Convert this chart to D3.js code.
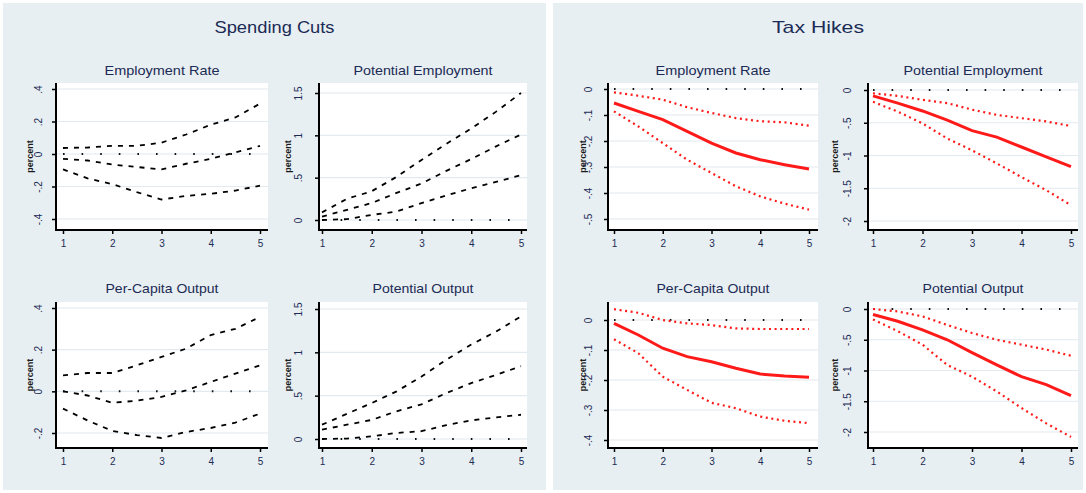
<!DOCTYPE html>
<html>
<head>
<meta charset="utf-8">
<script src="https://cdn.jsdelivr.net/npm/d3@7"></script>
<style>
  body { margin: 0; background: #ffffff; }
  text { font-family: "Liberation Sans", Arial, sans-serif; }
</style>
</head>
<body>
<svg id="chart" width="1086" height="493"></svg>
<script>
// Horizon (years after the consolidation)
const horizon = [1, 1.5, 2, 2.5, 3, 3.5, 4, 4.5, 5];

// Spending cuts: point estimate and confidence band
const spendEmpRateUpper = [0.037, 0.04, 0.05, 0.05, 0.07, 0.12, 0.18, 0.225, 0.31];
const spendEmpRateMid   = [-0.03, -0.04, -0.065, -0.08, -0.095, -0.06, -0.03, 0.01, 0.05];
const spendEmpRateLower = [-0.095, -0.15, -0.185, -0.235, -0.28, -0.258, -0.245, -0.225, -0.195];

const spendPotEmpUpper = [0.09, 0.25, 0.34, 0.51, 0.71, 0.9, 1.08, 1.28, 1.5];
const spendPotEmpMid   = [0.04, 0.12, 0.2, 0.32, 0.43, 0.58, 0.72, 0.87, 1.01];
const spendPotEmpLower = [0, 0.01, 0.06, 0.1, 0.2, 0.29, 0.375, 0.45, 0.53];

const spendPcOutUpper = [0.077, 0.088, 0.088, 0.125, 0.165, 0.205, 0.27, 0.3, 0.357];
const spendPcOutMid   = [0, -0.02, -0.055, -0.045, -0.027, 0.005, 0.045, 0.085, 0.125];
const spendPcOutLower = [-0.083, -0.14, -0.19, -0.21, -0.224, -0.195, -0.176, -0.15, -0.107];

const spendPotOutUpper = [0.165, 0.29, 0.415, 0.55, 0.72, 0.915, 1.09, 1.24, 1.415];
const spendPotOutMid   = [0.108, 0.165, 0.22, 0.32, 0.4, 0.53, 0.645, 0.74, 0.84];
const spendPotOutLower = [0, 0.005, 0.03, 0.07, 0.09, 0.16, 0.215, 0.25, 0.28];

// Tax hikes: point estimate and confidence band
const taxEmpRateUpper = [-0.013, -0.026, -0.041, -0.07, -0.092, -0.112, -0.124, -0.128, -0.141];
const taxEmpRateMid   = [-0.054, -0.086, -0.118, -0.163, -0.208, -0.246, -0.272, -0.291, -0.308];
const taxEmpRateLower = [-0.086, -0.144, -0.208, -0.272, -0.323, -0.374, -0.413, -0.441, -0.464];

const taxPotEmpUpper = [-0.05, -0.09, -0.15, -0.2, -0.3, -0.38, -0.43, -0.48, -0.55];
const taxPotEmpMid   = [-0.09, -0.2, -0.32, -0.46, -0.62, -0.72, -0.87, -1.02, -1.17];
const taxPotEmpLower = [-0.18, -0.33, -0.51, -0.74, -0.92, -1.12, -1.33, -1.53, -1.76];

const taxPcOutUpper = [0.036, 0.024, 0, -0.011, -0.017, -0.028, -0.03, -0.03, -0.03];
const taxPcOutMid   = [-0.011, -0.05, -0.094, -0.122, -0.139, -0.161, -0.18, -0.187, -0.191];
const taxPcOutLower = [-0.064, -0.111, -0.189, -0.233, -0.276, -0.294, -0.322, -0.336, -0.344];

const taxPotOutUpper = [0, -0.04, -0.12, -0.26, -0.39, -0.5, -0.58, -0.66, -0.76];
const taxPotOutMid   = [-0.09, -0.2, -0.34, -0.5, -0.71, -0.91, -1.1, -1.23, -1.41];
const taxPotOutLower = [-0.17, -0.36, -0.58, -0.91, -1.1, -1.34, -1.61, -1.86, -2.08];

// Axis ticks and their labels
const xTicks = [1, 2, 3, 4, 5];
const xTickLabels = ["1", "2", "3", "4", "5"];
const spendRateTicks = [0.4, 0.2, 0, -0.2, -0.4];
const spendRateLabels = [".4", ".2", "0", "-.2", "-.4"];
const spendPcTicks = [0.4, 0.2, 0, -0.2];
const spendPcLabels = [".4", ".2", "0", "-.2"];
const spendPotTicks = [1.5, 1, 0.5, 0];
const spendPotLabels = ["1.5", "1", ".5", "0"];
const taxRateTicks = [0, -0.1, -0.2, -0.3, -0.4, -0.5];
const taxRateLabels = ["0", "-.1", "-.2", "-.3", "-.4", "-.5"];
const taxPcTicks = [0, -0.1, -0.2, -0.3, -0.4];
const taxPcLabels = ["0", "-.1", "-.2", "-.3", "-.4"];
const taxPotTicks = [0, -0.5, -1, -1.5, -2];
const taxPotLabels = ["0", "-.5", "-1", "-1.5", "-2"];

const groupTitles = ["Spending Cuts", "Tax Hikes"];
const yTitle = "percent";

// ---- layout ----
const svg = d3.select("#chart");
const bg = "#e8eff2";
const ink = "#1b2b55";

const groups = [
  { x: 3, w: 543, titleLen: 120 },
  { x: 553, w: 530, titleLen: 92 }
];
groups.forEach((g, i) => {
  svg.append("rect").attr("x", g.x).attr("y", 3).attr("width", g.w).attr("height", 487).attr("fill", bg);
  svg.append("text").attr("x", g.x + g.w / 2).attr("y", 33)
    .attr("text-anchor", "middle").attr("font-size", 17).attr("fill", ink)
    .attr("textLength", g.titleLen).attr("lengthAdjust", "spacingAndGlyphs")
    .text(groupTitles[i]);
});

// column frames: y-axis position, right edge, pixel positions of x = 1 and x = 5
const cols = [
  { axisX: 56, right: 268, x1: 63, x5: 260, labOff: 18, titleOff: 26 },
  { axisX: 319, right: 527, x1: 322, x5: 521, labOff: 21, titleOff: 31 },
  { axisX: 608, right: 818, x1: 614, x5: 809, labOff: 20, titleOff: 25 },
  { axisX: 868, right: 1078, x1: 873, x5: 1071, labOff: 21, titleOff: 33 }
];
const rows = [
  { top: 83, axisY: 230, titleY: 75 },
  { top: 302, axisY: 448, titleY: 293 }
];

const plots = [
  { title: "Employment Rate", col: 0, row: 0, kind: "spend", ticks: spendRateTicks, labels: spendRateLabels,
    yPx: [89, 219], upper: spendEmpRateUpper, mid: spendEmpRateMid, lower: spendEmpRateLower, tLen: 115 },
  { title: "Potential Employment", col: 1, row: 0, kind: "spend", ticks: spendPotTicks, labels: spendPotLabels,
    yPx: [93, 220], upper: spendPotEmpUpper, mid: spendPotEmpMid, lower: spendPotEmpLower, tLen: 139 },
  { title: "Per-Capita Output", col: 0, row: 1, kind: "spend", ticks: spendPcTicks, labels: spendPcLabels,
    yPx: [308, 433], upper: spendPcOutUpper, mid: spendPcOutMid, lower: spendPcOutLower, tLen: 113 },
  { title: "Potential Output", col: 1, row: 1, kind: "spend", ticks: spendPotTicks, labels: spendPotLabels,
    yPx: [309, 439], upper: spendPotOutUpper, mid: spendPotOutMid, lower: spendPotOutLower, tLen: 101 },
  { title: "Employment Rate", col: 2, row: 0, kind: "tax", ticks: taxRateTicks, labels: taxRateLabels,
    yPx: [89, 219], upper: taxEmpRateUpper, mid: taxEmpRateMid, lower: taxEmpRateLower, tLen: 115 },
  { title: "Potential Employment", col: 3, row: 0, kind: "tax", ticks: taxPotTicks, labels: taxPotLabels,
    yPx: [90, 221], upper: taxPotEmpUpper, mid: taxPotEmpMid, lower: taxPotEmpLower, tLen: 139 },
  { title: "Per-Capita Output", col: 2, row: 1, kind: "tax", ticks: taxPcTicks, labels: taxPcLabels,
    yPx: [320, 440], upper: taxPcOutUpper, mid: taxPcOutMid, lower: taxPcOutLower, tLen: 113 },
  { title: "Potential Output", col: 3, row: 1, kind: "tax", ticks: taxPotTicks, labels: taxPotLabels,
    yPx: [309, 432], upper: taxPotOutUpper, mid: taxPotOutMid, lower: taxPotOutLower, tLen: 101 }
];

plots.forEach(p => {
  const c = cols[p.col], r = rows[p.row];
  const x = d3.scaleLinear().domain([1, 5]).range([c.x1, c.x5]);
  const y = d3.scaleLinear()
    .domain([p.ticks[0], p.ticks[p.ticks.length - 1]])
    .range(p.yPx);
  const g = svg.append("g");

  // plot region and grid
  g.append("rect").attr("x", c.axisX).attr("y", r.top)
    .attr("width", c.right - c.axisX).attr("height", r.axisY - r.top).attr("fill", "#ffffff");
  g.selectAll(".grid").data(p.ticks).join("line")
    .attr("x1", c.axisX).attr("x2", c.right)
    .attr("y1", d => y(d)).attr("y2", d => y(d))
    .attr("stroke", "#e1eaee").attr("stroke-width", 1.2);

  // subplot title
  g.append("text").attr("x", (c.axisX + c.right) / 2).attr("y", r.titleY)
    .attr("text-anchor", "middle").attr("font-size", 13).attr("fill", ink)
    .attr("textLength", p.tLen).attr("lengthAdjust", "spacingAndGlyphs")
    .text(p.title);

  // y axis
  const yAxis = d3.axisLeft(y).tickValues(p.ticks).tickSize(4).tickFormat((d, i) => p.labels[i]);
  const ya = g.append("g").attr("transform", `translate(${c.axisX},0)`).call(yAxis);
  ya.select(".domain").remove();
  ya.selectAll(".tick line").attr("stroke", "#000").attr("stroke-width", 1.5);
  ya.selectAll(".tick text")
    .attr("x", null).attr("dy", null)
    .attr("transform", `translate(${-c.labOff},0) rotate(-90)`)
    .attr("text-anchor", "middle").attr("dominant-baseline", "central")
    .attr("font-size", 10).attr("fill", ink).attr("font-family", "Liberation Sans, Arial, sans-serif");
  g.append("line").attr("x1", c.axisX).attr("x2", c.axisX).attr("y1", r.top).attr("y2", r.axisY + 1)
    .attr("stroke", "#000").attr("stroke-width", 2);

  // x axis
  const xAxis = d3.axisBottom(x).tickValues(xTicks).tickSize(4).tickFormat((d, i) => xTickLabels[i]);
  const xa = g.append("g").attr("transform", `translate(0,${r.axisY})`).call(xAxis);
  xa.select(".domain").remove();
  xa.selectAll(".tick line").attr("stroke", "#000").attr("stroke-width", 1.5);
  xa.selectAll(".tick text").attr("y", 10).attr("font-size", 10).attr("fill", ink)
    .attr("font-family", "Liberation Sans, Arial, sans-serif");
  g.append("line").attr("x1", c.axisX - 1).attr("x2", c.right).attr("y1", r.axisY).attr("y2", r.axisY)
    .attr("stroke", "#000").attr("stroke-width", 2);

  // y axis title
  g.append("text")
    .attr("transform", `translate(${c.axisX - c.titleOff},${(r.top + r.axisY) / 2}) rotate(-90)`)
    .attr("text-anchor", "middle").attr("dominant-baseline", "central")
    .attr("font-size", 9).attr("font-weight", "bold").attr("fill", "#1a1a1a")
    .text(yTitle);

  // series
  const line = d3.line().x((d, i) => x(horizon[i])).y(d => y(d));
  const zero = horizon.map(() => 0);
  g.append("path").attr("d", line(zero)).attr("fill", "none")
    .attr("stroke", "#111").attr("stroke-width", 2).attr("stroke-dasharray", "1.6,17");

  if (p.kind === "spend") {
    [p.upper, p.mid, p.lower].forEach(s => {
      g.append("path").attr("d", line(s)).attr("fill", "none")
        .attr("stroke", "#000").attr("stroke-width", 1.8).attr("stroke-dasharray", "5,6");
    });
  } else {
    [p.upper, p.lower].forEach(s => {
      g.append("path").attr("d", line(s)).attr("fill", "none")
        .attr("stroke", "#ff1a1a").attr("stroke-width", 2.2).attr("stroke-dasharray", "2,3.6");
    });
    g.append("path").attr("d", line(p.mid)).attr("fill", "none")
      .attr("stroke", "#ff1a1a").attr("stroke-width", 3);
  }
});
</script>
</body>
</html>
